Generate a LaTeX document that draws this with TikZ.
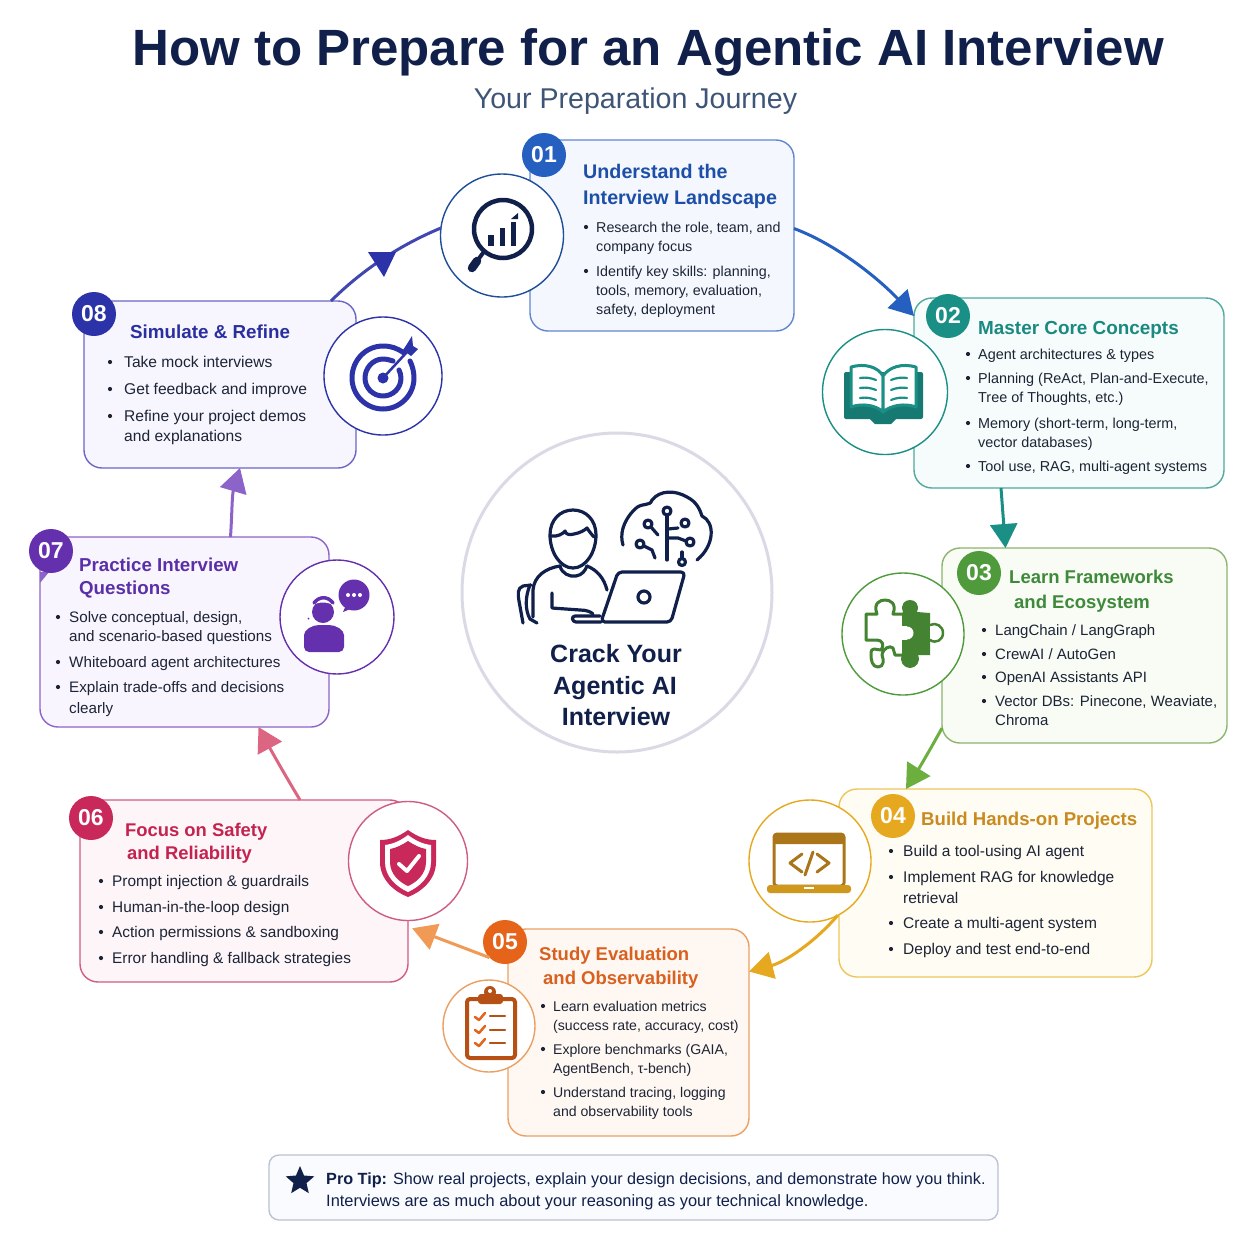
\documentclass[tikz,border=0pt]{standalone}
\usepackage{fontspec}
\setmainfont{Liberation Sans}
\usetikzlibrary{arrows.meta,shapes.geometric}
\definecolor{navy}{HTML}{10204A}
\definecolor{subink}{HTML}{3F5578}
\definecolor{hubring}{HTML}{D9DAE6}
\definecolor{tipline}{HTML}{B9C3D4}
\definecolor{tipfill}{HTML}{FAFBFE}
\definecolor{bodyink}{HTML}{1C2436}
\definecolor{ca}{HTML}{2560C0}\definecolor{ta}{HTML}{1D4FA8}\definecolor{la}{HTML}{5F86CF}\definecolor{fa}{HTML}{F4F8FE}
\definecolor{cb}{HTML}{1A8F86}\definecolor{tb}{HTML}{1A8A80}\definecolor{lb}{HTML}{4FA9A0}\definecolor{fb}{HTML}{F5FCFB}
\definecolor{cc}{HTML}{4F9A3A}\definecolor{tc}{HTML}{3F8A3A}\definecolor{lc}{HTML}{8DB56F}\definecolor{fc}{HTML}{F8FCF5}
\definecolor{cd}{HTML}{E6A81E}\definecolor{td}{HTML}{C98A1F}\definecolor{ld}{HTML}{EDC65A}\definecolor{fd}{HTML}{FFFCF3}
\definecolor{ce}{HTML}{E5641A}\definecolor{te}{HTML}{D9601F}\definecolor{le}{HTML}{EC9F63}\definecolor{fe}{HTML}{FFF8F2}
\definecolor{cf}{HTML}{C8285A}\definecolor{tf}{HTML}{C4234F}\definecolor{lf}{HTML}{CF5C82}\definecolor{ff}{HTML}{FDF5F8}
\definecolor{cg}{HTML}{6430AE}\definecolor{tg}{HTML}{5A2FA8}\definecolor{lg}{HTML}{8C63C9}\definecolor{fg}{HTML}{F9F5FE}
\definecolor{ch}{HTML}{2C32A8}\definecolor{th}{HTML}{2A2FA0}\definecolor{lh}{HTML}{6A66C8}\definecolor{fh}{HTML}{F7F6FE}
\definecolor{greenline}{HTML}{6CAF3E}
\definecolor{orangeline}{HTML}{F09A55}
\definecolor{pinkline}{HTML}{DC6582}
\newcounter{tn}
\def\hdsz{18.7}
\def\bdsz{15}
\tikzset{
 cardbox/.style={draw=#1,line width=1.4pt,rounded corners=18pt,inner sep=0pt,outer sep=0pt},
 ringbox/.style={circle,draw=#1,line width=1.4pt,fill=white,inner sep=0pt,outer sep=0pt},
 badgebox/.style={circle,fill=#1,text=white,inner sep=0pt,outer sep=0pt,font=\fontsize{23}{23}\selectfont\bfseries},
 headtext/.style={anchor=base west,inner sep=0pt,text=#1,font=\fontsize{\hdsz}{20}\selectfont\bfseries},
 bodytext/.style={anchor=base west,inner sep=0pt,text=bodyink,font=\fontsize{\bdsz}{15}\selectfont},
 conn/.style={line width=3pt,draw=#1,-{Triangle[length=24pt,width=27pt,fill=#1]}},
 icon/.style={line cap=round,line join=round},
}
\newcommand\cardbox[7]{\node[cardbox=#6,fill=#7,minimum width={(#4-#2)*1pt},minimum height={(#5-#3)*1pt}] (#1) at ({(#2+#4)/2},{(#3+#5)/2}) {};}
\newcommand\ringbox[5]{\node[ringbox=#5,minimum size={2*#4*1pt}] (#1) at (#2,#3) {};}
\newcommand\badgebox[5]{\node[badgebox=#5,minimum size=44pt] (#1) at (#2,#3) {#4};}
\newcommand\hdline[4]{\stepcounter{tn}\node[headtext=#1] (h\arabic{tn}) at (#2,#3) {#4};}
\newcommand\bline[3]{\stepcounter{tn}\node[bodytext] (t\arabic{tn}) at (#1,#2) {#3};}
\newcommand\bdot[2]{\fill[bodyink] (#1,#2-5) circle (2.1);}
\begin{document}
\begin{tikzpicture}[x=1pt,y=-1pt]
\useasboundingbox (0,0) rectangle (1254,1254);
\fill[white] (0,0) rectangle (1254,1254);
% titles
\node[anchor=base,inner sep=0pt,text=navy,font=\fontsize{51}{51}\selectfont\bfseries] (title) at (648,65) {How to Prepare for an Agentic AI Interview};
\node[anchor=base,inner sep=0pt,text=subink,font=\fontsize{28.6}{28.6}\selectfont] (subtitle) at (635.5,108) {Your Preparation Journey};
% cards
\cardbox{ba}{530}{140}{794}{331}{la}{fa}
\cardbox{bb}{914}{298}{1224}{488}{lb}{fb}
\cardbox{bc}{942}{548}{1227}{743}{lc}{fc}
\cardbox{bd}{839}{789}{1152}{977}{ld}{fd}
\cardbox{be}{508}{929}{749}{1136}{le}{fe}
\cardbox{bf}{80}{800}{408}{982}{lf}{ff}
\cardbox{bg}{40}{537}{329}{727}{lg}{fg}
\cardbox{bh}{84}{301}{356}{468}{lh}{fh}
% rings
\ringbox{ia}{502}{235.5}{61.5}{ca!80!black}
\ringbox{ib}{885}{392}{62.5}{cb}
\ringbox{ic}{903}{634}{61}{cc}
\ringbox{id}{810}{861}{61}{cd}
\ringbox{ie}{489}{1026}{46}{le}
\ringbox{if}{408}{861}{59.5}{lf}
\ringbox{ig}{337}{617}{57}{cg}
\ringbox{ih}{383}{376}{59}{ch}
% connectors
\draw[conn=ca] ([yshift=7pt]ba.east) .. controls (838,245) and (880,280) .. ([yshift=-18pt]bb.north west);
\draw[conn=cb] ([xshift=-68pt]bb.south) -- ([xshift=-79pt]bc.north);
\draw[conn=greenline] ([yshift=15pt]bc.south west) .. controls (930,750) and (918,770) .. ([xshift=67pt]bd.north west);
\draw[conn=cd] (id.-63) .. controls (815,942) and (785,962) .. ([yshift=61pt]be.east);
\draw[conn=pinkline] ([xshift=56pt]bf.north) .. controls (285,775) and (272,752) .. ([xshift=74pt]bg.south);
\draw[conn=lg] ([xshift=46pt]bg.north) .. controls (232,515) and (232,495) .. ([xshift=20pt]bh.south);
\draw[line width=3pt,draw=ch!90!white] ([xshift=111pt]bh.north) .. controls (362,270) and (400,245) .. (ia.173);
\fill[ch] (368,252) -- (396,252) -- (384,277) -- cycle;
% badges
\badgebox{na}{544}{155}{01}{ca}
\badgebox{nb}{948}{316}{02}{cb}
\badgebox{nc}{979}{573}{03}{cc}
\badgebox{nd}{893}{816}{04}{cd}
\badgebox{ne}{505}{942}{05}{ce}
\badgebox{nf}{91}{818}{06}{cf}
\fill[lg] (40,572) -- (40,583) -- (49,572) -- cycle;
\badgebox{ng}{51}{551}{07}{cg}
\badgebox{nh}{94}{314}{08}{ch}
\draw[conn=orangeline] (ne.south west) -- ([shift={(-1pt,-8pt)}]if.-85);
% texts 01
\def\hdsz{19.7}\def\bdsz{14.3}
\hdline{ta}{583}{178}{Understand the}
\hdline{ta}{583}{204}{Interview Landscape}
\bdot{586}{232}\bline{596}{232}{Research the role, team, and}
\bline{596}{251}{company focus}
\bdot{586}{276}\bline{596}{276}{Identify key skills: planning,}
\bline{596}{295}{tools, memory, evaluation,}
\bline{596}{314}{safety, deployment}
% 02
\def\hdsz{18.9}\def\bdsz{14.4}
\hdline{tb}{978}{334}{Master Core Concepts}
\bdot{968}{359}\bline{978}{359}{Agent architectures \& types}
\bdot{968}{383}\bline{978}{383}{Planning (ReAct, Plan-and-Execute,}
\bline{978}{402}{Tree of Thoughts, etc.)}
\bdot{968}{428}\bline{978}{428}{Memory (short-term, long-term,}
\bline{978}{447}{vector databases)}
\bdot{968}{471}\bline{978}{471}{Tool use, RAG, multi-agent systems}
% 03
\def\hdsz{18.5}\def\bdsz{15}
\hdline{tc}{1009}{583}{Learn Frameworks}
\hdline{tc}{1014}{608}{and Ecosystem}
\bdot{984}{635}\bline{995}{635}{LangChain / LangGraph}
\bdot{984}{659}\bline{995}{659}{CrewAI / AutoGen}
\bdot{984}{682}\bline{995}{682}{OpenAI Assistants API}
\bdot{984}{706}\bline{995}{706}{Vector DBs: Pinecone, Weaviate,}
\bline{995}{725}{Chroma}
% 04
\def\hdsz{18.6}\def\bdsz{15.5}
\hdline{td}{921}{825}{Build Hands-on Projects}
\bdot{891}{856}\bline{903}{856}{Build a tool-using AI agent}
\bdot{891}{882}\bline{903}{882}{Implement RAG for knowledge}
\bline{903}{903}{retrieval}
\bdot{891}{928}\bline{903}{928}{Create a multi-agent system}
\bdot{891}{954}\bline{903}{954}{Deploy and test end-to-end}
% 05
\def\hdsz{18.5}\def\bdsz{14.1}
\hdline{te}{539}{960}{Study Evaluation}
\hdline{te}{543}{984}{and Observability}
\bdot{543}{1011}\bline{553}{1011}{Learn evaluation metrics}
\bline{553}{1030}{(success rate, accuracy, cost)}
\bdot{543}{1054}\bline{553}{1054}{Explore benchmarks (GAIA,}
\bline{553}{1073}{AgentBench, τ-bench)}
\bdot{543}{1097}\bline{553}{1097}{Understand tracing, logging}
\bline{553}{1116}{and observability tools}
% 06
\def\hdsz{18.4}\def\bdsz{15.4}
\hdline{tf}{125}{836}{Focus on Safety}
\hdline{tf}{127}{859}{and Reliability}
\bdot{101}{886}\bline{112}{886}{Prompt injection \& guardrails}
\bdot{101}{912}\bline{112}{912}{Human-in-the-loop design}
\bdot{101}{937}\bline{112}{937}{Action permissions \& sandboxing}
\bdot{101}{963}\bline{112}{963}{Error handling \& fallback strategies}
% 07
\def\hdsz{18.7}\def\bdsz{15.2}
\hdline{tg}{79}{571}{Practice Interview}
\hdline{tg}{79}{594}{Questions}
\bdot{58}{622}\bline{69}{622}{Solve conceptual, design,}
\bline{69}{641}{and scenario-based questions}
\bdot{58}{667}\bline{69}{667}{Whiteboard agent architectures}
\bdot{58}{692}\bline{69}{692}{Explain trade-offs and decisions}
\bline{69}{713}{clearly}
% 08
\def\hdsz{18.8}\def\bdsz{15.6}
\hdline{th}{130}{338}{Simulate \& Refine}
\bdot{110}{367}\bline{124}{367}{Take mock interviews}
\bdot{110}{394}\bline{124}{394}{Get feedback and improve}
\bdot{110}{421}\bline{124}{421}{Refine your project demos}
\bline{124}{441}{and explanations}
% center
\node[ellipse,draw=hubring,line width=3pt,fill=white,minimum width=310pt,minimum height=319pt,inner sep=0pt] (hub) at (617,592.5) {};
\node[anchor=base,inner sep=0pt,text=navy,font=\fontsize{25}{25}\selectfont\bfseries] (c1) at (616,662) {Crack Your};
\node[anchor=base,inner sep=0pt,text=navy,font=\fontsize{25}{25}\selectfont\bfseries] (c2) at (615,694) {Agentic AI};
\node[anchor=base,inner sep=0pt,text=navy,font=\fontsize{25}{25}\selectfont\bfseries] (c3) at (616,725) {Interview};
% protip
\node[draw=tipline,line width=1.4pt,fill=tipfill,rounded corners=10pt,minimum width=729pt,minimum height=65pt,inner sep=0pt] (tip) at (633.5,1187.5) {};
\node[star,star points=5,star point ratio=2.2,fill=navy,minimum size=30pt,inner sep=0pt] (starmark) at (300,1181) {};
\node[anchor=base west,inner sep=0pt,text=navy,font=\fontsize{16.2}{16}\selectfont] (tip1) at (326,1184) {\textbf{Pro Tip:}\hspace{6pt}Show real projects, explain your design decisions, and demonstrate how you think.};
\node[anchor=base west,inner sep=0pt,text=navy,font=\fontsize{16.4}{16}\selectfont] (tip2) at (326,1206) {Interviews are as much about your reasoning as your technical knowledge.};
% icon 01 magnifier
\begin{scope}[icon,navy]
\draw[line width=4.5pt] (503,229) circle (29);
\draw[line width=4pt] (483,253) -- (477,261);
\draw[line width=8.5pt] (477,261) -- (472,268);
\fill (488,235) rectangle (494,246);
\fill (500,228) rectangle (505,246);
\fill (511,222) rectangle (516,246);
\fill (511,219) -- (518,213) -- (518,219) -- cycle;
\end{scope}
% icon 02 book
\begin{scope}[icon]
\fill[cb!85!black,rounded corners=2pt] (844,372) rectangle (923,419);
\fill[cb!85!black] (870,419) -- (875,424) -- (891,424) -- (896,419) -- cycle;
\fill[white,draw=cb,line width=3pt] (851,367) .. controls (865,363) and (878,367) .. (883,376) -- (883,412) .. controls (876,405) and (862,403) .. (851,407) -- cycle;
\fill[white,draw=cb,line width=3pt] (916,367) .. controls (902,363) and (889,367) .. (883,376) -- (883,412) .. controls (891,405) and (905,403) .. (916,407) -- cycle;
\draw[cb,line width=2.2pt] (860,378) .. controls (866,377) and (871,378) .. (876,380);
\draw[cb,line width=2.2pt] (860,388) .. controls (866,387) and (871,388) .. (876,390);
\draw[cb,line width=2.2pt] (860,398) .. controls (866,397) and (871,398) .. (876,400);
\draw[cb,line width=2.2pt] (891,380) .. controls (896,378) and (901,377) .. (907,378);
\draw[cb,line width=2.2pt] (891,390) .. controls (896,388) and (901,387) .. (907,388);
\draw[cb,line width=2.2pt] (891,400) .. controls (896,398) and (901,397) .. (907,398);
\end{scope}
% icon 03 puzzle
\begin{scope}[icon,cc!85!black]
\draw[line width=3pt,fill=white] (902,614) -- (893,614) .. controls (897,603) and (890,600) .. (885,600) .. controls (880,600) and (873,603) .. (877,614) -- (866,614) -- (866,640) -- (877,640) .. controls (882,640) and (885,645) .. (881,650) .. controls (876,650) and (871,646) .. (871,654) .. controls (871,660) and (872,667) .. (878,667) .. controls (884,667) and (884,660) .. (882,655) .. controls (883,648) and (890,645) .. (893,648) -- (895,655) -- (902,655);
\fill (902,613) -- (903,612) .. controls (900,604) and (905,600) .. (910,600) .. controls (915,600) and (920,604) .. (917,612) -- (930,613) -- (930,655) -- (918,655) .. controls (921,662) and (916,668) .. (910,668) .. controls (904,668) and (899,662) .. (902,655) -- cycle;
\fill[white] (907,633) circle (6.5);
\fill[white] (902,626) rectangle (907,640);
\draw[line width=2.5pt,fill=white] (930,625) .. controls (936,622) and (943,626) .. (943,633) .. controls (943,640) and (936,644) .. (930,640);
\end{scope}
% icon 04 laptop
\begin{scope}[icon]
\draw[td!85!black,line width=3pt,fill=white,rounded corners=3pt] (774,834) rectangle (844,886);
\fill[td!85!black,rounded corners=2pt] (774,834) rectangle (844,844);
\fill[cd!90!black,rounded corners=3pt] (767,885) rectangle (851,893);
\fill[white] (804,887) rectangle (814,888.5);
\draw[td!85!black,line width=3pt] (802,854) -- (790,863) -- (802,872);
\draw[td!85!black,line width=3pt] (813,852) -- (805,875);
\draw[td!85!black,line width=3pt] (817,854) -- (829,863) -- (817,872);
\end{scope}
% icon 05 clipboard
\begin{scope}[icon,ce!80!black]
\draw[line width=4pt,fill=white,rounded corners=3pt] (467,999) rectangle (515,1058);
\fill[rounded corners=3pt] (478,994) rectangle (503,1004);
\fill (490,992) circle (6);
\fill[white] (490,991) circle (2);
\draw[line width=2.5pt,ce] (475,1017) -- (479,1020) -- (485,1013);
\draw[line width=2.5pt,ce] (475,1030) -- (479,1033) -- (485,1026);
\draw[line width=2.5pt,ce] (475,1043) -- (479,1046) -- (485,1039);
\draw[line width=2.5pt] (490,1016) -- (505,1016);
\draw[line width=2.5pt] (490,1030) -- (505,1030);
\draw[line width=2.5pt] (490,1043) -- (505,1043);
\end{scope}
% icon 06 shield
\begin{scope}[icon]
\fill[cf] (408,830) .. controls (398,837) and (390,840) .. (380,840) -- (380,862) .. controls (380,880) and (395,892) .. (408,897) .. controls (421,892) and (436,880) .. (436,862) -- (436,840) .. controls (426,840) and (418,837) .. (408,830) -- cycle;
\fill[white] (408,835) .. controls (400,841) and (393,844) .. (385,845) -- (385,862) .. controls (385,877) and (397,887) .. (408,892) .. controls (419,887) and (431,877) .. (431,862) -- (431,845) .. controls (423,844) and (416,841) .. (408,835) -- cycle;
\fill[cf] (408,841) .. controls (402,845) and (396,848) .. (390,849) -- (390,862) .. controls (390,874) and (399,882) .. (408,886) .. controls (417,882) and (426,874) .. (426,862) -- (426,849) .. controls (420,848) and (414,845) .. (408,841) -- cycle;
\draw[white,line width=4pt] (399,864) -- (407,871) -- (419,856);
\end{scope}
% icon 07 person with bubble
\begin{scope}[icon,cg]
\fill (323,612) circle (11);
\draw[white,line width=2pt] (310,606) .. controls (316,600) and (330,600) .. (336,606);
\draw[line width=3.5pt] (314,603) .. controls (319,596) and (328,596) .. (333,603);
\fill[rounded corners=5pt] (304,652) -- (304,640) .. controls (304,630) and (312,625) .. (324,625) .. controls (336,625) and (344,630) .. (344,640) -- (344,652) -- cycle;
\fill (354,595) circle (15.5);
\fill (346,605) -- (343,612) -- (353,608) -- cycle;
\fill[white] (348,595) circle (2);
\fill[white] (354,595) circle (2);
\fill[white] (360,595) circle (2);
\fill (308.5,618.5) circle (1);
\end{scope}
% icon 08 target
\begin{scope}[icon,ch]
\draw[line width=5pt] (404,353) .. controls (397,348) and (391,346) .. (383,346) .. controls (366,346) and (352,360) .. (352,378) .. controls (352,395) and (366,409) .. (383,409) .. controls (400,409) and (414,395) .. (414,378) .. controls (414,371) and (412,365) .. (410,361);
\draw[line width=5pt] (393,361) .. controls (390,360) and (386,359) .. (383,359) .. controls (373,359) and (365,368) .. (365,378) .. controls (365,388) and (373,396) .. (383,396) .. controls (393,396) and (401,388) .. (401,378) .. controls (401,375) and (400,372) .. (399,370);
\fill (383,378) circle (5.5);
\draw[line width=2.5pt] (383,378) -- (407,352);
\fill (403,350) -- (407,344) -- (412,336) -- (413,346) -- (418,349) -- (411,356) -- cycle;
\end{scope}
% hub icon
\begin{scope}[icon,navy,line width=3.2pt]
\draw (573,510) .. controls (586,510) and (596,520) .. (596,535) .. controls (596,552) and (586,568) .. (573,568) .. controls (560,568) and (550,552) .. (550,535) .. controls (550,520) and (560,510) .. (573,510) -- cycle;
\draw (551,536) .. controls (557,537) and (563,534) .. (565,531) .. controls (566,535) and (570,535) .. (574,534) .. controls (580,533) and (585,530) .. (587,528) .. controls (589,531) and (592,535) .. (594,537);
\draw (533,617) -- (533,590) .. controls (534,576) and (546,568) .. (560,566);
\draw (560,566) .. controls (562,574) and (570,577) .. (576,576) .. controls (582,575) and (585,571) .. (587,566);
\draw (587,566) .. controls (597,570) and (604,578) .. (607,590);
\draw (552,593) -- (552,608) -- (580,610) .. controls (587,610) and (591,612) .. (593,614);
\draw (531,585) -- (523,586) .. controls (517,588) and (518,595) .. (519,601) -- (523,623);
\draw (530,585) .. controls (525,597) and (525,610) .. (530,619) -- (537,623);
\draw[rounded corners=3pt] (601,622) -- (573,622) -- (572,616) -- (600,616);
\draw[rounded corners=4pt] (601,622) -- (618,572) -- (685,572) -- (671,622) -- cycle;
\draw (644,597) circle (6);
\draw (623,545) .. controls (620,535) and (622,522) .. (635,509) .. controls (642,502) and (650,507) .. (652,500) .. controls (660,490) and (675,490) .. (687,497) .. controls (697,502) and (700,510) .. (702,516) .. controls (715,522) and (715,545) .. (697,560);
\draw (667,515) -- (667,560);
\draw (667,511) circle (4);
\draw (668,529) -- (678,528);
\draw (685,523) circle (4);
\draw (668,538) -- (678,538) -- (686,541);
\draw (690,542) circle (4);
\draw (651,527) -- (658,535);
\draw (648,524) circle (4);
\draw (644,546) -- (652,550) -- (655,558);
\draw (640,544) circle (4);
\draw (682,552) -- (682,558);
\draw (682,562) circle (3.5);
\end{scope}
\end{tikzpicture}
\end{document}
